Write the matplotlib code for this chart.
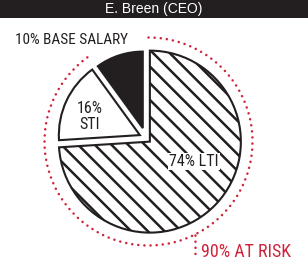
import matplotlib
matplotlib.use('Agg')
import matplotlib.pyplot as plt
from matplotlib.patches import Arc, Rectangle
import numpy as np

# данные
title = 'E. Breen (CEO)'
labels = ['74% LTI', '16%\nSTI', '10% BASE SALARY']
values = [74, 16, 10]
at_risk = '90% AT RISK'
risk_share = 90

dark = '#231f20'
red = '#d0243c'
narrow = ['Roboto Condensed', 'Open Sans Condensed', 'DejaVu Sans Condensed',
          'Liberation Sans Narrow', 'Liberation Sans']

plt.rcParams['hatch.linewidth'] = 1.8
plt.rcParams['hatch.color'] = dark

fig = plt.figure(figsize=(3.08, 2.62), dpi=100)
ax = fig.add_axes([0, 0, 1, 1])

# круговая диаграмма
wedges, _ = ax.pie(values, startangle=90, counterclock=False,
                   center=(146, 124), radius=91, explode=[5.3, 6.8, 10.4],
                   frame=True,
                   wedgeprops=dict(edgecolor=dark, linewidth=1.5))
ax.set_xlim(0, 308)
ax.set_ylim(0, 262)
ax.axis('off')
wedges[0].set_facecolor('white')
wedges[0].set_hatch('\\\\')
wedges[1].set_facecolor('white')
wedges[1].set_radius(81)
wedges[2].set_facecolor(dark)
wedges[2].set_radius(76.5)

# шапка
ax.add_patch(Rectangle((0, 244), 308, 18, color=dark, lw=0))
ax.text(154, 253, title, color='white', ha='center', va='center',
        fontsize=10, family=['Liberation Sans', 'DejaVu Sans'])

ax.text(194, 100.5, labels[0], ha='center', va='center', fontsize=11.5,
        color=dark, family=narrow,
        bbox=dict(facecolor='white', edgecolor='none', pad=1))
ax.text(90, 145.5, labels[1], ha='center', va='center', fontsize=11.5,
        color=dark, family=narrow, linespacing=1.05)
ax.text(15, 218, labels[2], ha='left', va='baseline', fontsize=11,
        color=dark, family=narrow)

# красная пунктирная дуга "в зоне риска"
t1 = 90 + 360 * (100 - risk_share) / 100
arc = Arc((148.5, 120.5), 208, 208, theta1=t1, theta2=90, color=red,
          linewidth=1.8, linestyle=(0, (0.05, 2.4)))
arc.set_capstyle('round')
ax.add_patch(arc)
ax.plot([195, 195], [27.5, 5], color=red, linewidth=1.8,
        linestyle=(0, (0.05, 2.4)), dash_capstyle='round')
ax.text(201, 5.3, at_risk, ha='left', va='baseline', fontsize=13,
        color=red, family=narrow)

fig.savefig('out.png', dpi=100)
